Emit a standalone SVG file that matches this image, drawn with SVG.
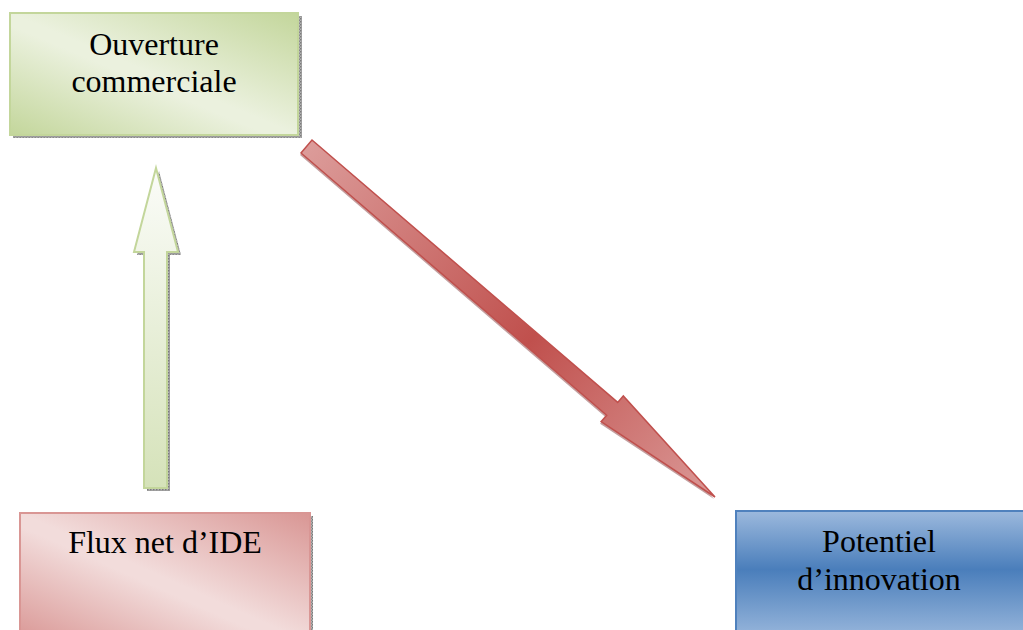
<svg xmlns="http://www.w3.org/2000/svg" width="1023" height="630" viewBox="0 0 1023 630">
<defs>
<pattern id="shad" width="3" height="3" patternUnits="userSpaceOnUse">
<rect width="3" height="3" fill="#b4b4b4"/>
<rect width="1.5" height="1.5" fill="#7a7a7a"/>
<rect x="1.5" y="1.5" width="1.5" height="1.5" fill="#8a8a8a"/>
</pattern>
<linearGradient id="gGreen" x1="1" y1="0" x2="0" y2="1">
<stop offset="0" stop-color="#c3d69b"/>
<stop offset="0.5" stop-color="#ebf1de"/>
<stop offset="0.55" stop-color="#ebf1de"/>
<stop offset="1" stop-color="#c3d69b"/>
</linearGradient>
<linearGradient id="gPink" x1="1" y1="0" x2="0" y2="1">
<stop offset="0" stop-color="#d99694"/>
<stop offset="0.5" stop-color="#f2dcdb"/>
<stop offset="0.55" stop-color="#f2dcdb"/>
<stop offset="1" stop-color="#d99694"/>
</linearGradient>
<linearGradient id="gBlue" x1="0" y1="0" x2="0" y2="1">
<stop offset="0" stop-color="#9cb9dd"/>
<stop offset="0.45" stop-color="#4a7ebb"/>
<stop offset="1" stop-color="#9cb9dd"/>
</linearGradient>
<linearGradient id="gArrowG" x1="0" y1="0" x2="0" y2="1">
<stop offset="0" stop-color="#fbfcf9"/>
<stop offset="1" stop-color="#d5e2b9"/>
</linearGradient>
<linearGradient id="gArrowR" gradientUnits="userSpaceOnUse" x1="306" y1="146" x2="715" y2="497">
<stop offset="0" stop-color="#dc9c9a"/>
<stop offset="0.55" stop-color="#c0504d"/>
<stop offset="1" stop-color="#db9997"/>
</linearGradient>
<style>
.lbl{font-family:"Liberation Serif","Times New Roman",serif;font-size:32px;fill:#000;text-anchor:middle}
.shadow{fill:url(#shad)}
</style>
</defs>
<g id="connectors">
<g id="arrow-ide-ouverture">
<polygon class="shadow" points="159,171 181,255 170,255 170,491 147,491 147,255 137,255"/>
<polygon points="156,168 178,252 167,252 167,488 144,488 144,252 134,252" fill="url(#gArrowG)" stroke="#c3d69b" stroke-width="2"/>
</g>
<g id="arrow-ouverture-innovation">
<polygon points="312,140 617.7,402.4 623.3,395.9 715,497 601.1,421.7 606.7,415.3 301,153" fill="#8a4040" opacity="0.5" transform="translate(-1,2)"/>
<polygon points="312,140 617.7,402.4 623.3,395.9 715,497 601.1,421.7 606.7,415.3 301,153" fill="url(#gArrowR)" stroke="#c0504d" stroke-width="1.5"/>
</g>
</g>
<g id="node-ouverture">
<rect class="shadow" x="13" y="16" width="289" height="122"/>
<rect x="10" y="13" width="288" height="122" fill="url(#gGreen)" stroke="#c3d69b" stroke-width="2"/>
<text class="lbl" x="154" y="55">Ouverture</text>
<text class="lbl" x="154" y="92">commerciale</text>
</g>
<g id="node-ide">
<rect class="shadow" x="23" y="516" width="290" height="130"/>
<rect x="20" y="513" width="290" height="130" fill="url(#gPink)" stroke="#d99694" stroke-width="2"/>
<text class="lbl" x="165" y="553">Flux net d’IDE</text>
</g>
<g id="node-innovation">
<rect x="736" y="511" width="300" height="130" fill="url(#gBlue)" stroke="#4f81bd" stroke-width="2"/>
<text class="lbl" x="879" y="552">Potentiel</text>
<text class="lbl" x="879" y="590">d’innovation</text>
</g>
</svg>
